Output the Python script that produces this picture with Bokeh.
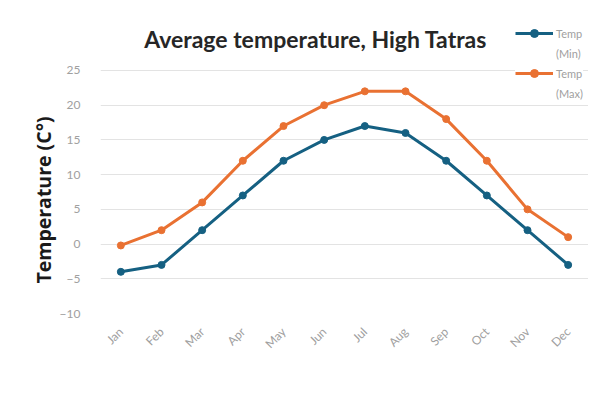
from bokeh.plotting import figure
from bokeh.models import Legend, LegendItem, Label
from bokeh.embed import file_html
from bokeh.resources import INLINE
import math

months = ["Jan", "Feb", "Mar", "Apr", "May", "Jun", "Jul", "Aug", "Sep", "Oct", "Nov", "Dec"]
temp_min = [-4, -3, 2, 7, 12, 15, 17, 16, 12, 7, 2, -3]
temp_max = [-0.2, 2, 6, 12, 17, 20, 22, 22, 18, 12, 5, 1]
y_ticks = [-10, -5, 0, 5, 10, 15, 20, 25]

c_min = "#156082"
c_max = "#E97132"

p = figure(x_range=months, y_range=(-10, 33.64), width=588, height=387,
           output_backend="svg", toolbar_location=None,
           min_border_left=100, min_border_right=0, min_border_top=10, min_border_bottom=74)
p.x_range.range_padding = 0
p.outline_line_color = None

title = Label(x=5.29, y=29.6, text="Average temperature, High Tatras",
              text_align="center", text_baseline="middle",
              text_font="Lato", text_font_size="23px", text_font_style="bold",
              text_color="#262626")
p.add_layout(title)

p.yaxis.ticker = y_ticks
p.yaxis.axis_line_color = None
p.yaxis.major_tick_line_color = None
p.yaxis.minor_tick_line_color = None
p.yaxis.major_label_text_font = "Lato"
p.yaxis.major_label_text_font_size = "12px"
p.yaxis.major_label_text_color = "#a0a0a0"
p.yaxis.major_label_standoff = 14
p.yaxis.axis_label = "Temperature (C°)" + "\u00a0" * 15
p.yaxis.axis_label_text_font = "Open Sans"
p.yaxis.axis_label_text_font_size = "19.5px"
p.yaxis.axis_label_text_font_style = "bold"
p.yaxis.axis_label_text_color = "#1a1a1a"
p.yaxis.axis_label_standoff = 0

p.xaxis.axis_line_color = None
p.xaxis.major_tick_line_color = None
p.xaxis.minor_tick_line_color = None
p.xaxis.major_label_orientation = math.pi / 4
p.xaxis.major_label_text_font = "Lato"
p.xaxis.major_label_text_font_size = "12px"
p.xaxis.major_label_text_color = "#a0a0a0"
p.xaxis.major_label_standoff = 10

p.xgrid.grid_line_color = None
p.ygrid.grid_line_color = "#e3e3e3"
p.ygrid.grid_line_width = 1.2

l1 = p.line(months, temp_min, line_color=c_min, line_width=3)
m1 = p.scatter(months, temp_min, size=7, fill_color=c_min, line_color=c_min)
l2 = p.line(months, temp_max, line_color=c_max, line_width=3)
m2 = p.scatter(months, temp_max, size=7, fill_color=c_max, line_color=c_max)

legend = Legend(items=[LegendItem(label="Temp", renderers=[l1, m1]),
                       LegendItem(label="(Min)", renderers=[]),
                       LegendItem(label="Temp", renderers=[l2, m2]),
                       LegendItem(label="(Max)", renderers=[])],
                location=(415, 210), glyph_width=38, glyph_height=20,
                label_height=20,
                label_text_font="Lato", label_text_font_size="11px",
                label_text_color="#a0a0a0", label_standoff=3,
                border_line_color=None, background_fill_color="white",
                background_fill_alpha=1, spacing=0, padding=3, margin=0)
p.add_layout(legend, "center")

open("out.html", "w").write(file_html(p, INLINE))
